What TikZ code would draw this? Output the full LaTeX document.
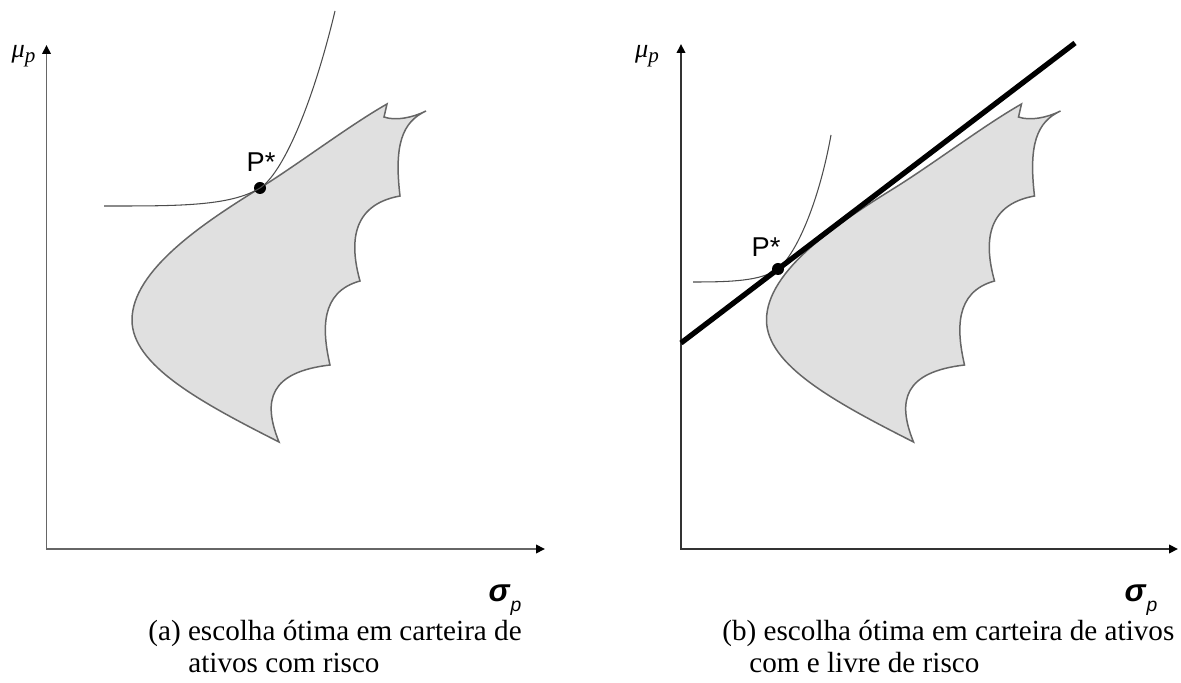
\documentclass[tikz,border=0pt]{standalone}
\usepackage{fontspec}
\setmainfont{Liberation Serif}
\newfontfamily\arialfont{Liberation Sans}
\usetikzlibrary{arrows.meta}

% conjunto de carteiras com risco (mesmo nos dois graficos)
\newcommand{\conjunto}{%
  \filldraw[fill=black!12,draw=black!60,line width=0.85pt]
    (1.71,4.58) .. controls (1.71,5.58) and (3.17,6.54) .. (4.27,7.22)
    .. controls (5.07,7.72) and (6.07,8.48) .. (6.81,8.90)
    -- (6.75,8.64) .. controls (6.97,8.56) and (7.31,8.62) .. (7.59,8.76)
    .. controls (7.11,8.54) and (6.95,8.08) .. (7.07,7.06)
    .. controls (6.07,6.88) and (6.07,6.08) .. (6.27,5.36)
    .. controls (5.47,5.14) and (5.51,4.38) .. (5.67,3.68)
    .. controls (4.47,3.54) and (4.31,2.98) .. (4.65,2.14)
    .. controls (3.07,2.94) and (1.71,3.68) .. (1.71,4.58) -- cycle;}

\begin{document}
\begin{tikzpicture}[
    eixo/.style={line width=1.1pt,{Triangle[length=1.8mm,width=1.7mm,color=black]}-{Triangle[length=1.8mm,width=1.7mm,color=black]}},
    indif/.style={black!70,line width=0.6pt},
    ponto/.style={circle,fill=black,inner sep=0pt,minimum size=0.24cm},
    rotulo/.style={font=\arialfont\fontsize{15.5}{18}\selectfont},
    legenda/.style={anchor=base west,inner sep=0pt,font=\fontsize{16.6}{19}\selectfont},
    sigma/.style={font=\arialfont\fontsize{18}{20}\selectfont},
    mu/.style={font=\fontsize{15}{17}\selectfont}]
        \useasboundingbox (-0.93,-2.68) rectangle (22.69,10.98);
        %% (a) somente ativos com risco
        \begin{scope}
            \coordinate (Oa) at (0,0);
            \coordinate (Ya) at (0,10.08);
            \coordinate (Xa) at (9.97,0);
            \conjunto
            \draw[eixo,black!60] (Ya) -- (Oa) -- (Xa);
            \node[ponto] (Pa) at (4.27,7.22) {};
            \draw[indif] (1.15,6.86) .. controls (2.6,6.86) and (3.67,6.85) .. (Pa.center)
                .. controls (4.7,7.49) and (5.3,8.8) .. (5.77,10.76);
            \node[rotulo] (Pla) at (4.29,7.74) {P*};
            \node[mu] (mua) at (-0.46,9.86) {\textit{μ}\raisebox{-0.4ex}{\fontsize{12}{13}\selectfont\textit{p}}};
            \node[sigma] (sigmaa) at (9.17,-1.02) {\textbf{\textit{σ}}\raisebox{-0.6ex}{\fontsize{11}{12}\selectfont\textit{p}}};
            \node[legenda] (lega1) at (2.03,-1.82) {(a) escolha ótima em carteira de};
            \node[legenda] (lega2) at (2.83,-2.46) {ativos com risco};
        \end{scope}
        %% (b) com ativo livre de risco
        \begin{scope}[xshift=12.69cm]
            \coordinate (Ob) at (0,0);
            \coordinate (Yb) at (0,10.1);
            \coordinate (Xb) at (9.94,0);
            \coordinate (rfb) at (0,4.12);
            \coordinate (topb) at (7.88,10.12);
            \conjunto
            \draw[eixo,black!80] (Yb) -- (Ob) -- (Xb);
            \node[ponto] (Pb) at (1.94,5.6) {};
            \draw[indif] (0.24,5.34) .. controls (1.0,5.34) and (1.6,5.36) .. (Pb.center)
                .. controls (2.3,5.9) and (2.75,6.9) .. (3.0,8.28);
            \draw[line width=3pt] (rfb) -- (topb);
            \node[rotulo] (Plb) at (1.70,6.04) {P*};
            \node[mu] (mub) at (-0.68,9.86) {\textit{μ}\raisebox{-0.4ex}{\fontsize{12}{13}\selectfont\textit{p}}};
            \node[sigma] (sigmab) at (9.2,-1.02) {\textbf{\textit{σ}}\raisebox{-0.6ex}{\fontsize{11}{12}\selectfont\textit{p}}};
            \node[legenda] (legb1) at (0.82,-1.82) {(b) escolha ótima em carteira de ativos};
            \node[legenda] (legb2) at (1.36,-2.46) {com e livre de risco};
        \end{scope}
\end{tikzpicture}
\end{document}
